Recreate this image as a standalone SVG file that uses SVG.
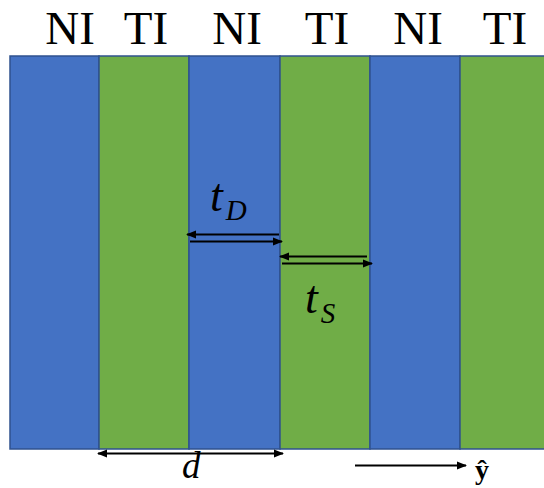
<svg xmlns="http://www.w3.org/2000/svg" width="544" height="488" viewBox="0 0 544 488">
<defs>
<style>
.ni{fill:#4472C4;stroke:#2F528F;stroke-width:1.5}
.ti{fill:#70AD47;stroke:#2F528F;stroke-width:1.5}
.lbl{font-size:47px;fill:#000;text-anchor:middle}
.math{font-style:italic;fill:#000}
.ar{stroke:#000;stroke-width:2;fill:none}
</style>
<marker id="ah" viewBox="0 0 10 10" refX="9" refY="5" markerWidth="5" markerHeight="5" orient="auto-start-reverse" markerUnits="strokeWidth">
<path d="M0,1 L10,5 L0,9 z" fill="#000"/>
</marker>
</defs>
<rect width="544" height="488" fill="#fff"/>
<g id="layer1"><rect class="ni" x="10" y="56" width="89" height="393"/><text class="lbl" font-family="Liberation Serif, serif" x="70" y="44">NI</text></g>
<g id="layer2"><rect class="ti" x="99" y="56" width="90" height="393"/><text class="lbl" font-family="Liberation Serif, serif" x="146" y="44">TI</text></g>
<g id="layer3"><rect class="ni" x="189" y="56" width="91" height="393"/><text class="lbl" font-family="Liberation Serif, serif" x="237" y="44">NI</text></g>
<g id="layer4"><rect class="ti" x="280" y="56" width="90" height="393"/><text class="lbl" font-family="Liberation Serif, serif" x="327" y="44">TI</text></g>
<g id="layer5"><rect class="ni" x="370" y="56" width="90" height="393"/><text class="lbl" font-family="Liberation Serif, serif" x="418" y="44">NI</text></g>
<g id="layer6"><rect class="ti" x="460" y="56" width="90" height="393"/><text class="lbl" font-family="Liberation Serif, serif" x="505" y="44">TI</text></g>
<g id="connectors">
<line class="ar" x1="279" y1="234.5" x2="187" y2="234.5" marker-end="url(#ah)"/>
<line class="ar" x1="190" y1="241.5" x2="282" y2="241.5" marker-end="url(#ah)"/>
<line class="ar" x1="367" y1="256.5" x2="280" y2="256.5" marker-end="url(#ah)"/>
<line class="ar" x1="282" y1="263.5" x2="372" y2="263.5" marker-end="url(#ah)"/>
<line class="ar" x1="98" y1="453.5" x2="283" y2="453.5" marker-start="url(#ah)" marker-end="url(#ah)"/>
<line class="ar" x1="355" y1="465.5" x2="466" y2="465.5" marker-end="url(#ah)"/>
</g>
<g id="labels">
<text class="math" font-family="Liberation Serif, serif" x="210" y="211" font-size="46">t<tspan font-size="29" dx="3" dy="9">D</tspan></text>
<text class="math" font-family="Liberation Serif, serif" x="305" y="313" font-size="46">t<tspan font-size="29" dx="3" dy="10">S</tspan></text>
<text class="math" font-family="Liberation Serif, serif" x="182" y="478" font-size="37">d</text>
<text x="482" y="479" font-family="Liberation Serif, serif" font-weight="bold" font-size="28" text-anchor="middle">ŷ</text>
</g>
</svg>
